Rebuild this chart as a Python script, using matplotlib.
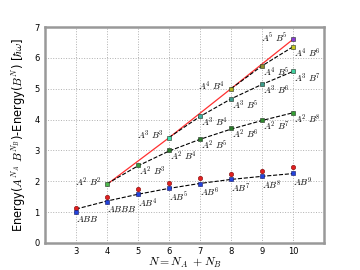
import matplotlib
matplotlib.use("Agg")
import numpy as np
import matplotlib.pyplot as plt

plt.rcParams["mathtext.fontset"] = "cm"

# AB^(N-1) series: blue (one method) and red (other method, with error bars)
n_ab = [3, 4, 5, 6, 7, 8, 9, 10]
e_ab_blue = [1.01, 1.34, 1.58, 1.77, 1.92, 2.06, 2.16, 2.26]
e_ab_red = [1.14, 1.49, 1.75, 1.93, 2.10, 2.23, 2.34, 2.45]
err_ab_red = [0.06, 0.06, 0.06, 0.06, 0.06, 0.06, 0.06, 0.06]
fit_ab = [1.10, 1.36, 1.58, 1.77, 1.93, 2.06, 2.16, 2.25]
lab_ab = ["ABB", "ABBB", "AB^4", "AB^5", "AB^6", "AB^7", "AB^8", "AB^9"]

# A^2 B^(N-2)
n_a2 = [4, 5, 6, 7, 8, 9, 10]
e_a2 = [1.90, 2.53, 3.01, 3.38, 3.72, 3.98, 4.22]
fit_a2 = [1.92, 2.50, 2.98, 3.36, 3.69, 3.97, 4.22]
lab_a2 = ["A^2\\ B^2", "A^2\\ B^3", "A^2\\ B^4", "A^2\\ B^5", "A^2\\ B^6", "A^2\\ B^7", "A^2\\ B^8"]
col_a2 = ["#4cb84c", "#3a9a3a", "#2a7a2a", "#2a7a2a", "#2a7a2a", "#2e8b2e", "#34a034"]

# A^3 B^(N-3)
n_a3 = [6, 7, 8, 9, 10]
e_a3 = [3.41, 4.12, 4.68, 5.15, 5.56]
fit_a3 = [3.42, 4.10, 4.67, 5.14, 5.56]
lab_a3 = ["A^3\\ B^3", "A^3\\ B^4", "A^3\\ B^5", "A^3\\ B^6", "A^3\\ B^7"]
col_a3 = ["#44e0b0", "#3cb0a0", "#3c9c8c", "#3c9c8c", "#40d0a0"]

# A^4 B^(N-4)
n_a4 = [8, 9, 10]
e_a4 = [5.00, 5.74, 6.36]
lab_a4 = ["A^4\\ B^4", "A^4\\ B^5", "A^4\\ B^6"]
col_a4 = ["#b0b020", "#8c8c30", "#c8c820"]

# A^5 B^5
n_a5 = [10]
e_a5 = [6.60]
lab_a5 = ["A^5\\ B^5"]
col_a5 = ["#8a3ad8"]

# symmetric A^n B^n
n_sym = [4, 6, 8, 10]
e_sym = [1.90, 3.41, 5.00, 6.60]

fig = plt.figure(figsize=(3.6, 2.7), dpi=100)
ax = fig.add_axes([0.125, 0.1, 0.775, 0.8])

ax.plot(n_sym, e_sym, color="#ff3030", lw=0.9, zorder=2)
ax.plot(n_ab, fit_ab, "k--", lw=0.8, zorder=2)
ax.plot(n_a2, fit_a2, "k--", lw=0.8, zorder=2)
ax.plot(n_a3, fit_a3, "k--", lw=0.8, zorder=2)
ax.plot(n_a4, e_a4, "k--", lw=0.8, zorder=2)

ax.errorbar(n_ab, e_ab_red, yerr=err_ab_red, fmt="o", color="#e02020", ms=3.2,
            mec="#801010", mew=0.4, elinewidth=0.8, capsize=0, zorder=3)
ax.plot(n_ab, e_ab_blue, "s", color="#2244dd", ms=3.2, mec="#101060", mew=0.4, zorder=4)

lsize = 6.5
for n, e, l in zip(n_ab, e_ab_blue, lab_ab):
    ax.annotate("$" + l + "$", (n, e), xytext=(0, -1.5), textcoords="offset points",
                ha="left", va="top", fontsize=lsize)

series = [(n_a2, e_a2, lab_a2, col_a2), (n_a3, e_a3, lab_a3, col_a3),
          (n_a4, e_a4, lab_a4, col_a4), (n_a5, e_a5, lab_a5, col_a5)]
for ns, es, ls, cs in series:
    for i, (n, e, l, c) in enumerate(zip(ns, es, ls, cs)):
        ax.plot(n, e, "s", color=c, ms=3.2, mec="#203020", mew=0.4, zorder=4)
        if i == 0:
            ax.annotate("$" + l + "$", (n, e), xytext=(-4, 1.5), textcoords="offset points",
                        ha="right", va="center", fontsize=lsize)
        else:
            ax.annotate("$" + l + "$", (n, e), xytext=(1, 0), textcoords="offset points",
                        ha="left", va="top", fontsize=lsize)

ax.set_xlim(2, 11)
ax.set_ylim(0, 7)
ax.set_xticks(range(3, 11))
ax.set_yticks(range(0, 8))
ax.tick_params(labelsize=6, length=0, pad=4)
ax.tick_params(axis="x", pad=3)
ax.grid(True, linestyle=":", color="#b0b0b0", lw=0.7)
for s in ax.spines.values():
    s.set_color("#999999")
    s.set_linewidth(1.8)

ax.set_xlabel("$N=N_A\\ +N_B$", fontsize=8.5)
ax.xaxis.set_label_coords(0.5, -0.06)
ax.set_ylabel("Energy($A^{N_A}\\ B^{N_B}$)-Energy($B^{N}$) [$\\hbar\\omega$]", fontsize=8.3)
ax.yaxis.set_label_coords(-0.06, 0.5)

fig.savefig("out.png", dpi=100)
